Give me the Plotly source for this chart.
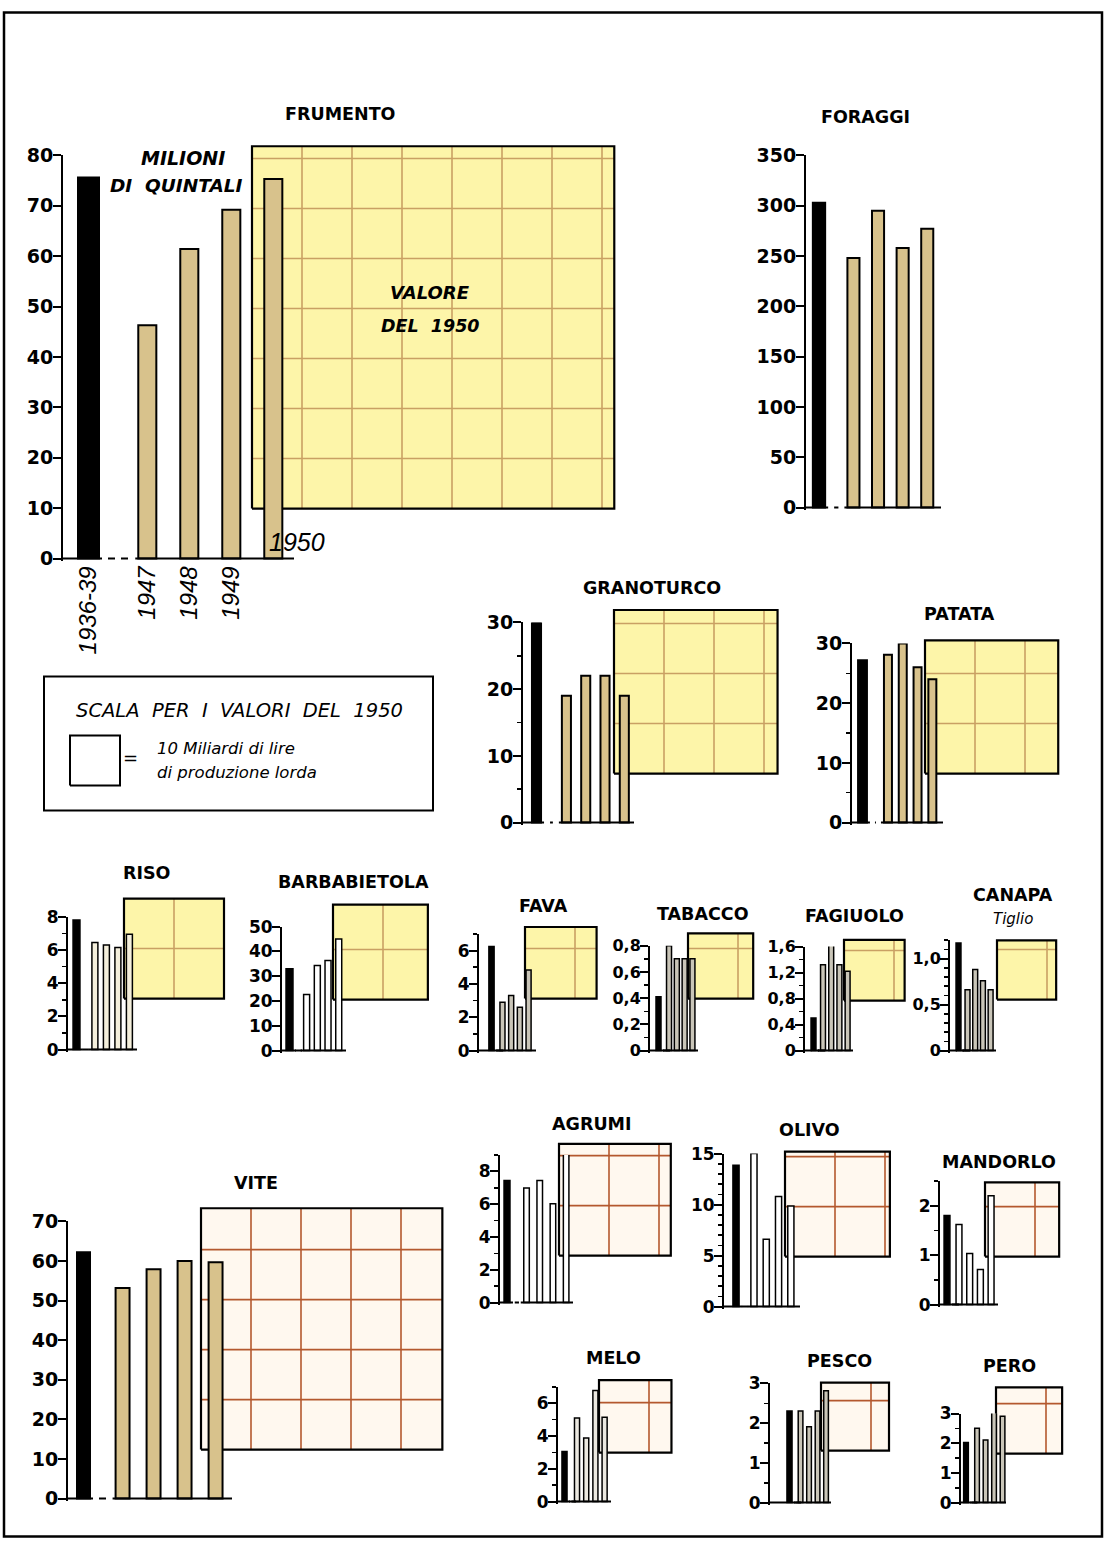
import math
import plotly.graph_objects as go

W, H = 1108, 1547
# the photographed page shows page-y as 0.987*y + 10.5; place marks so they land where intended
A_Y, B_Y = 0.987, 10.5
UNIT_PX = 50          # side of one value square in px
UNIT_VALUE = 10       # miliardi di lire per square

# ---------------- DATA ----------------
PERIODS = ["1936-39", "1947", "1948", "1949", "1950"]
CROPS = ["FRUMENTO", "FORAGGI", "GRANOTURCO", "PATATA", "RISO", "BARBABIETOLA",
         "FAVA", "TABACCO", "FAGIUOLO", "CANAPA", "VITE", "AGRUMI", "OLIVO",
         "MANDORLO", "MELO", "PESCO", "PERO"]

FRUMENTO = [75.6, 46.3, 61.4, 69.2, 75.3]
FORAGGI = [303, 248, 295, 258, 277]
GRANOTURCO = [30.0, 19.0, 22.0, 22.0, 19.0]
PATATA = [27.2, 28.1, 30.0, 26.0, 24.0]
RISO = [7.8, 6.45, 6.3, 6.15, 6.95]
BARBABIETOLA = [33.0, 22.6, 34.3, 36.3, 45.0]
FAVA = [6.24, 2.9, 3.3, 2.6, 4.84]
TABACCO = [0.41, 0.80, 0.70, 0.70, 0.70]
FAGIUOLO = [0.50, 1.32, 1.62, 1.32, 1.22]
CANAPA = [1.17, 0.66, 0.88, 0.76, 0.66]
VITE = [62.2, 53.2, 57.9, 60.0, 59.7]
AGRUMI = [7.45, 6.98, 7.45, 6.03, 9.14]
OLIVO = [13.85, 15.0, 6.6, 10.8, 9.85]
MANDORLO = [1.80, 1.62, 1.03, 0.71, 2.20]
MELO = [3.05, 5.1, 3.88, 6.77, 5.14]
PESCO = [2.31, 2.31, 1.91, 2.31, 2.82]
PERO = [2.02, 2.50, 2.11, 3.44, 2.91]

SERIES = [FRUMENTO, FORAGGI, GRANOTURCO, PATATA, RISO, BARBABIETOLA, FAVA, TABACCO,
          FAGIUOLO, CANAPA, VITE, AGRUMI, OLIVO, MANDORLO, MELO, PESCO, PERO]

# value of 1950 production, miliardi di lire (None = not shown)
VALORE_1950 = [525, None, 107, 71, 40, 36, 20.5, 17, 14.7, 14, 233, 50, 44, 22, 21, 18.5, 17.5]

Y_TICK_LABELS = {
    "FRUMENTO": ["0", "10", "20", "30", "40", "50", "60", "70", "80"],
    "FORAGGI": ["0", "50", "100", "150", "200", "250", "300", "350"],
    "GRANOTURCO": ["0", "10", "20", "30"],
    "PATATA": ["0", "10", "20", "30"],
    "RISO": ["0", "2", "4", "6", "8"],
    "BARBABIETOLA": ["0", "10", "20", "30", "40", "50"],
    "FAVA": ["0", "2", "4", "6"],
    "TABACCO": ["0", "0,2", "0,4", "0,6", "0,8"],
    "FAGIUOLO": ["0", "0,4", "0,8", "1,2", "1,6"],
    "CANAPA": ["0", "0,5", "1,0"],
    "VITE": ["0", "10", "20", "30", "40", "50", "60", "70"],
    "AGRUMI": ["0", "2", "4", "6", "8"],
    "OLIVO": ["0", "5", "10", "15"],
    "MANDORLO": ["0", "1", "2"],
    "MELO": ["0", "2", "4", "6"],
    "PESCO": ["0", "1", "2", "3"],
    "PERO": ["0", "1", "2", "3"],
}

# ---------------- STYLE / LAYOUT ----------------
BEIGE = "#d8c28c"
YELLOW = ("#fdf5a9", "#c9a064")
PALE = ("#fff8ef", "#b4582e")
WHITEBAR = "#ffffff"
GREYBAR = "#c9c5b8"
FONT = "DejaVu Sans"

PANEL = {
    "FRUMENTO": dict(ax=63, y0=558, ppu=5.04, top=80, c0=88.5, sp=42, gap=1.4, wb=0.5, w=0.43, right=294,
                     sq=(252, 508), bar=BEIGE, style=YELLOW, fs=19, minor=None, lw=2),
    "FORAGGI": dict(ax=806, y0=507, ppu=1.006, top=350, c0=819, sp=24.6, gap=1.4, wb=0.5, w=0.49, right=941,
                    sq=None, bar=BEIGE, style=YELLOW, fs=19, minor=None, lw=2),
    "GRANOTURCO": dict(ax=523, y0=822, ppu=6.67, top=30, c0=536.5, sp=19.3, gap=1.55, wb=0.47, w=0.47, right=634,
                       sq=(614, 773), bar=BEIGE, style=YELLOW, fs=19, minor=5, lw=2),
    "PATATA": dict(ax=852, y0=822, ppu=5.97, top=30, c0=862.5, sp=14.8, gap=1.72, wb=0.6, w=0.54, right=943,
                   sq=(925, 773), bar=BEIGE, style=YELLOW, fs=19, minor=5, lw=2),
    "RISO": dict(ax=68, y0=1049, ppu=16.6, top=8, c0=76.5, sp=11.5, gap=1.6, wb=0.6, w=0.52, right=137,
                 sq=(124, 998), bar="#f4efdc", style=YELLOW, fs=17, minor=1, lw=1.5),
    "BARBABIETOLA": dict(ax=282, y0=1050, ppu=2.48, top=50, c0=289.5, sp=10.7, gap=1.6, wb=0.65, w=0.56, right=346,
                         sq=(333, 999), bar=WHITEBAR, style=YELLOW, fs=17, minor=None, lw=1.5),
    "FAVA": dict(ax=479, y0=1050, ppu=16.67, top=7, c0=491.5, sp=8.7, gap=1.26, wb=0.6, w=0.58, right=536,
                 sq=(525, 998), bar=GREYBAR, style=YELLOW, fs=17, minor=1, lw=1.5),
    "TABACCO": dict(ax=650, y0=1050, ppu=131, top=0.8, c0=658.5, sp=7.8, gap=1.35, wb=0.64, w=0.64, right=698,
                    sq=(688, 998), bar=GREYBAR, style=YELLOW, fs=16, minor=0.1, lw=1.5),
    "FAGIUOLO": dict(ax=805, y0=1050, ppu=65, top=1.6, c0=813.5, sp=8.2, gap=1.16, wb=0.6, w=0.6, right=853,
                     sq=(844, 1000), bar=GREYBAR, style=YELLOW, fs=16, minor=0.2, lw=1.5),
    "CANAPA": dict(ax=950, y0=1050, ppu=92, top=1.2, c0=958.5, sp=7.7, gap=1.17, wb=0.64, w=0.64, right=996,
                   sq=(997, 999), bar=GREYBAR, style=YELLOW, fs=16, minor=0.1, lw=1.5),
    "VITE": dict(ax=68, y0=1498, ppu=3.96, top=70, c0=83.5, sp=31, gap=1.26, wb=0.42, w=0.45, right=232,
                 sq=(201, 1449), bar=BEIGE, style=PALE, fs=19, minor=None, lw=2),
    "AGRUMI": dict(ax=500, y0=1302, ppu=16.4, top=9, c0=507, sp=13.2, gap=1.48, wb=0.45, w=0.42, right=573,
                   sq=(559, 1255), bar=WHITEBAR, style=PALE, fs=17, minor=1, lw=1.5),
    "OLIVO": dict(ax=724, y0=1306, ppu=10.2, top=15, c0=736, sp=12.3, gap=1.46, wb=0.5, w=0.5, right=800,
                  sq=(785, 1256), bar=WHITEBAR, style=PALE, fs=17, minor=1, lw=1.5),
    "MANDORLO": dict(ax=940, y0=1304, ppu=49.5, top=2.5, c0=947, sp=10.7, gap=1.12, wb=0.55, w=0.55, right=998,
                     sq=(985, 1256), bar=WHITEBAR, style=PALE, fs=17, minor=0.5, lw=1.5),
    "MELO": dict(ax=558, y0=1501, ppu=16.4, top=7, c0=564.5, sp=9.2, gap=1.36, wb=0.55, w=0.55, right=611,
                 sq=(599, 1452), bar="#ebe8e0", style=PALE, fs=17, minor=1, lw=1.5),
    "PESCO": dict(ax=770, y0=1502, ppu=39.7, top=3, c0=789.5, sp=8.5, gap=1.3, wb=0.6, w=0.55, right=831,
                  sq=(821, 1450), bar=GREYBAR, style=PALE, fs=17, minor=0.5, lw=1.5),
    "PERO": dict(ax=961, y0=1502, ppu=29.7, top=3, c0=966, sp=8.5, gap=1.3, wb=0.55, w=0.55, right=1006,
                 sq=(996, 1453), bar=GREYBAR, style=PALE, fs=17, minor=0.5, lw=1.5),
}

TITLES = {
    "FRUMENTO": (340, 113), "FORAGGI": (865, 116), "GRANOTURCO": (652, 587), "PATATA": (959, 613),
    "RISO": (146, 872), "BARBABIETOLA": (353, 881), "FAVA": (543, 905), "TABACCO": (703, 913),
    "FAGIUOLO": (854, 915), "CANAPA": (1013, 894), "VITE": (256, 1182), "AGRUMI": (592, 1123),
    "OLIVO": (809, 1129), "MANDORLO": (999, 1161), "MELO": (613, 1357), "PESCO": (839, 1360),
    "PERO": (1009, 1365),
}


def px2x(px):
    return px / W


def px2y(py):
    page = (py - B_Y) / A_Y
    return 1 - page / H


fig = go.Figure()
layout = {}
counter = [0]


def new_axes():
    counter[0] += 1
    n = counter[0]
    sfx = "" if n == 1 else str(n)
    return "x" + sfx, "y" + sfx, "xaxis" + sfx, "yaxis" + sfx


def add_square(value, left, bottom, fill, grid, grid_on=True, bw=2.2):
    s = math.sqrt(value / UNIT_VALUE)
    P = 4
    xs, ys, xl, yl = new_axes()
    layout[xl] = dict(domain=[px2x(left - P), px2x(left + s * UNIT_PX + P)],
                      range=[-P / UNIT_PX, s + P / UNIT_PX], visible=False, anchor=ys)
    layout[yl] = dict(domain=[px2y(bottom + P), px2y(bottom - s * UNIT_PX - P)],
                      range=[-P / UNIT_PX, s + P / UNIT_PX], visible=False, anchor=xs)
    bx = [0, s, s, 0, 0]
    by = [0, 0, s, s, 0]
    fig.add_trace(go.Scatter(x=bx, y=by, mode="lines", fill="toself", fillcolor=fill,
                             line=dict(width=0, color="rgba(0,0,0,0)"),
                             xaxis=xs, yaxis=ys, hoverinfo="skip", showlegend=False))
    if grid_on:
        gx, gy = [], []
        k = 1
        while k < s - 0.08:
            gx += [k, k, None, 0, s, None]
            gy += [0, s, None, k, k, None]
            k += 1
        fig.add_trace(go.Scatter(x=gx, y=gy, mode="lines", line=dict(color=grid, width=1.6),
                                 xaxis=xs, yaxis=ys, hoverinfo="skip", showlegend=False))
    fig.add_trace(go.Scatter(x=bx, y=by, mode="lines", line=dict(color="black", width=bw),
                             xaxis=xs, yaxis=ys, hoverinfo="skip", showlegend=False))
    return xs, ys, s


def add_panel(name, values):
    L = PANEL[name]
    xs, ys, xl, yl = new_axes()
    pos = [0] + [L["gap"] + i for i in range(len(values) - 1)]
    x_lo = (L["ax"] - L["c0"]) / L["sp"]
    x_hi = (L["right"] - L["c0"]) / L["sp"]
    pad = 2.0
    ytop_px = L["y0"] - L["top"] * L["ppu"]
    labels = Y_TICK_LABELS[name]
    vals = [float(t.replace(",", ".")) for t in labels]
    xaxis = dict(domain=[px2x(L["ax"]), px2x(L["right"])], range=[x_lo, x_hi], anchor=ys,
                 showgrid=False, zeroline=False, showline=False, showticklabels=False, ticks="")
    if name == "FRUMENTO":
        xaxis.update(showticklabels=True, tickmode="array", tickvals=pos[:4], ticktext=PERIODS[:4],
                     tickangle=-90, ticklabelstandoff=0,
                     tickfont=dict(family="Liberation Sans", size=24, style="italic", color="black"))
    layout[xl] = xaxis
    yaxis = dict(domain=[px2y(L["y0"] + pad), px2y(ytop_px)],
                 range=[-pad / L["ppu"], L["top"]],
                 anchor=xs, showline=True, linecolor="black", linewidth=2, ticks="outside",
                 ticklen=8, tickwidth=2, tickcolor="black", tickmode="array", tickvals=vals,
                 ticktext=labels, showgrid=False, zeroline=False, ticklabelstandoff=-4,
                 tickfont=dict(family=FONT, size=L["fs"], weight="bold", color="black"))
    if L["minor"]:
        yaxis["minor"] = dict(dtick=L["minor"], tick0=0, ticks="outside", ticklen=4, tickwidth=1.5,
                              tickcolor="black", showgrid=False)
    layout[yl] = yaxis

    colors = ["black"] + [L["bar"]] * (len(values) - 1)
    widths = [L["wb"]] + [L["w"]] * (len(values) - 1)
    fig.add_trace(go.Bar(x=pos, y=values, width=widths,
                         marker=dict(color=colors, line=dict(color="black", width=L["lw"])),
                         xaxis=xs, yaxis=ys, cliponaxis=False, hoverinfo="skip", showlegend=False))
    d = 3 / L["sp"]
    e1 = pos[0] + L["wb"] / 2 + d
    s2 = pos[1] - L["w"] / 2 - d
    fig.add_trace(go.Scatter(x=[x_lo, e1, None, s2, x_hi], y=[0, 0, None, 0, 0], mode="lines",
                             line=dict(color="black", width=2), xaxis=xs, yaxis=ys,
                             hoverinfo="skip", showlegend=False))
    fig.add_trace(go.Scatter(x=[e1 + 2 * d, s2 - 2 * d], y=[0, 0], mode="lines",
                             line=dict(color="black", width=2, dash="7px,6px"), xaxis=xs, yaxis=ys,
                             hoverinfo="skip", showlegend=False))
    return xs, ys, pos


# squares first (drawn below the bars)
square_axes = {}
for crop, v in zip(CROPS, VALORE_1950):
    L = PANEL[crop]
    if v is None or L["sq"] is None:
        continue
    square_axes[crop] = add_square(v, L["sq"][0], L["sq"][1], L["style"][0], L["style"][1])

# legend unit square
add_square(UNIT_VALUE, 70, 785, "#ffffff", "#000000", grid_on=False, bw=2)

panel_axes = {}
for crop, vals in zip(CROPS, SERIES):
    panel_axes[crop] = add_panel(crop, vals)

annotations = []


def note(text, x, y, size=17, weight="bold", style="normal", xanchor="center", xref="paper",
         yref="paper", yanchor="middle", family=FONT):
    annotations.append(dict(text=text, x=x, y=y, xref=xref, yref=yref, showarrow=False,
                            xanchor=xanchor, yanchor=yanchor,
                            font=dict(family=family, size=size, weight=weight, style=style,
                                      color="black")))


for crop, (tx, ty) in TITLES.items():
    note(crop, px2x(tx), px2y(ty), size=17.5)
note("Tiglio", px2x(1013), px2y(918), size=15, weight="normal", style="italic")

# FRUMENTO extra labels
note("MILIONI", px2x(183), px2y(157), size=19, style="italic")
note("DI  QUINTALI", px2x(176), px2y(185), size=18.5, style="italic")
fx, fy, fpos = panel_axes["FRUMENTO"]
note("1950", fpos[4] - 0.15, 3.2, size=25, weight="normal", style="italic", xanchor="left",
     xref=fx, yref=fy, family="Liberation Sans")
sx, sy, ss = square_axes["FRUMENTO"]
note("VALORE", 3.56, 4.32, size=18, style="italic", xref=sx, yref=sy)
note("DEL  1950", 3.56, 3.66, size=17.5, style="italic", xref=sx, yref=sy)

# legend texts
note("SCALA  PER  I  VALORI  DEL  1950", px2x(239), px2y(710), size=19.5, weight="normal",
     style="italic")
note("=", px2x(130), px2y(757), size=18, weight="normal")
note("10 Miliardi di lire", px2x(155), px2y(748), size=16.5, weight="normal", style="italic",
     xanchor="left")
note("di produzione lorda", px2x(155), px2y(772), size=16.5, weight="normal", style="italic",
     xanchor="left")

shapes = [
    dict(type="rect", xref="paper", yref="paper", x0=px2x(4), x1=px2x(1102), y0=px2y(1536),
         y1=px2y(12), line=dict(color="black", width=2.5)),
    dict(type="rect", xref="paper", yref="paper", x0=px2x(44), x1=px2x(433), y0=px2y(810),
         y1=px2y(676), line=dict(color="black", width=2)),
]

fig.update_layout(
    width=W, height=H, margin=dict(l=0, r=0, t=0, b=0),
    paper_bgcolor="white", plot_bgcolor="rgba(0,0,0,0)",
    showlegend=False, barmode="overlay",
    annotations=annotations, shapes=shapes,
    **layout,
)

fig.write_html("out.html", config={"displayModeBar": False, "staticPlot": True},
               post_script="document.body.style.margin='0';")
